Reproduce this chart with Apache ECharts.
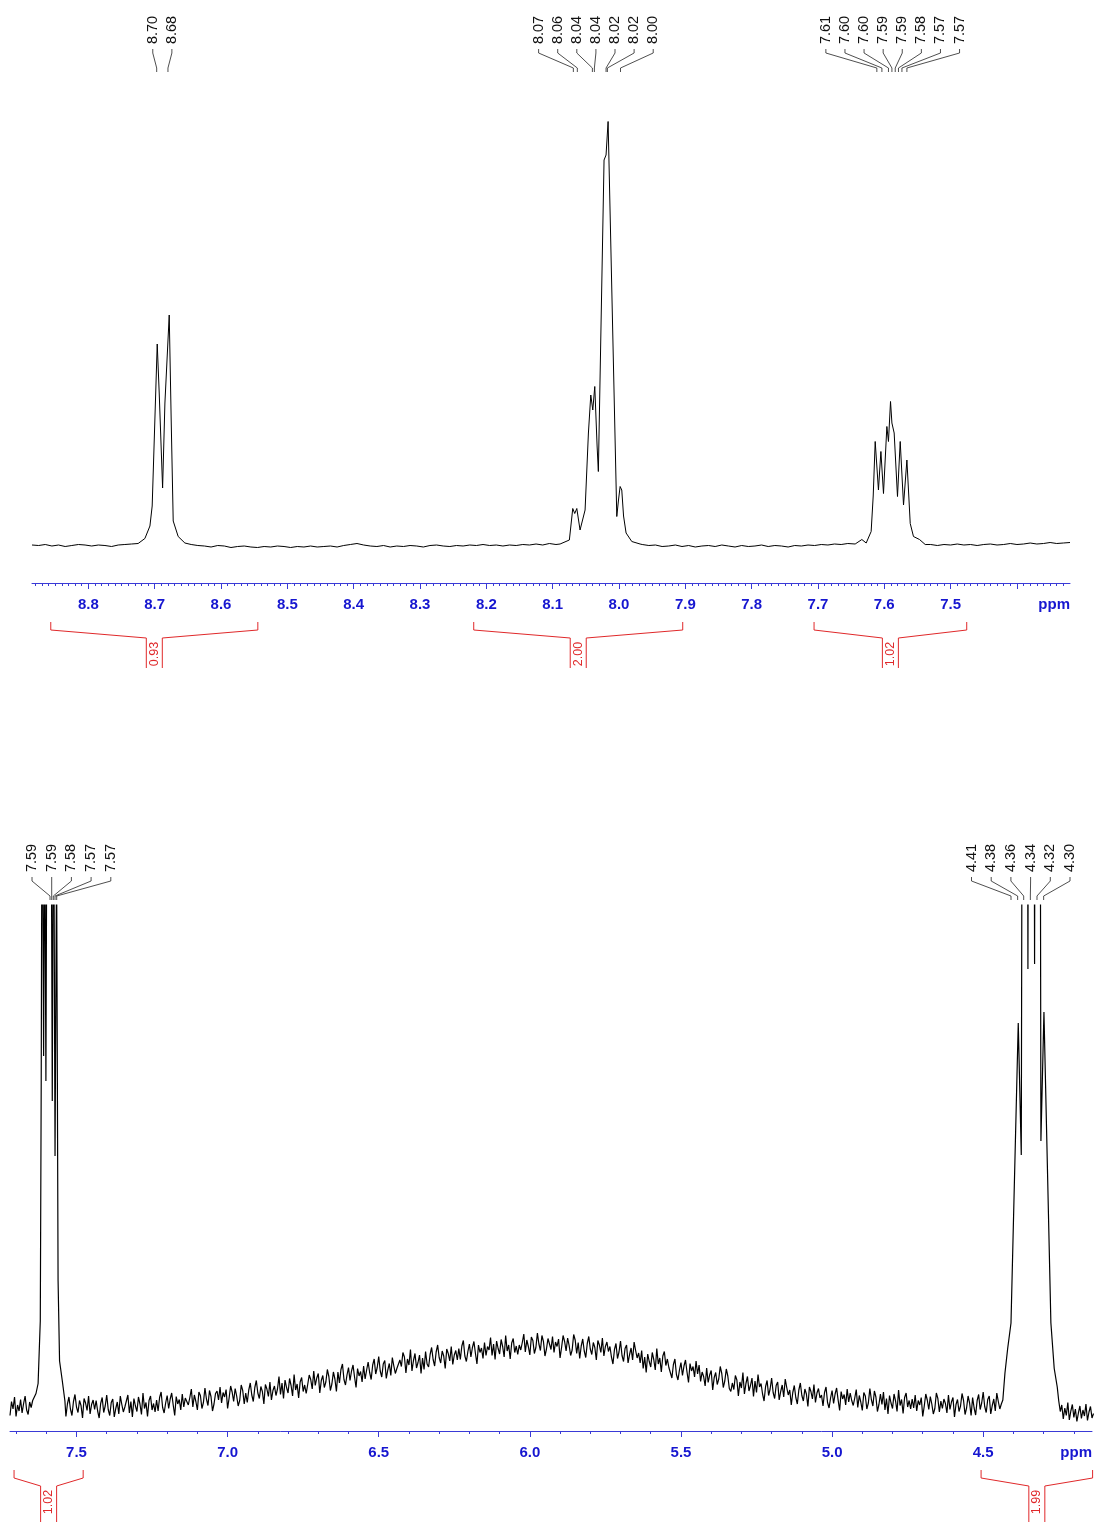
<!DOCTYPE html>
<html><head><meta charset="utf-8">
<script src="https://cdn.jsdelivr.net/npm/echarts@6/dist/echarts.min.js"></script>
<style>html,body{margin:0;padding:0;background:#fff}#c{width:1096px;height:1522px}</style>
</head><body><div id="c"></div>
<script>
// ---------------- TOP PANEL (8.885 – 7.32 ppm) ----------------
const topRange = [7.32, 8.885];
const topMajorTicks = [8.8,8.7,8.6,8.5,8.4,8.3,8.2,8.1,8.0,7.9,7.8,7.7,7.6,7.5,7.4];
const topTickLabels = [8.8,8.7,8.6,8.5,8.4,8.3,8.2,8.1,8.0,7.9,7.8,7.7,7.6,7.5];
const TOP_STEP = 0.01;
const topBase1Start = 8.885, topBase1 = [0.2,0.1,0.3,0.0,0.2,-0.1,0.1,0.3,0.2,0.0,0.2,0.1,-0.1,0.2,0.3,0.4];
const topBase2Start = 8.645, topBase2 = [0.3,0.1,0.0,-0.2,0.1,0.0,-0.3,-0.1,0.0,-0.2,-0.3,-0.1,-0.2,0.0,-0.1,-0.3,-0.1,-0.2,0.0,-0.2,-0.1,0.0,-0.2,0.1,0.3,0.5,0.2,0.0,-0.1,0.1,-0.2,0.0,-0.1,0.1,0.0,-0.2,0.1,0.2,0.0,-0.1,0.1,0.0,0.2,0.1,0.3,0.1,0.2,0.0,0.2,0.1,0.3,0.2,0.4,0.2,0.5,0.3];
const topBase3Start = 7.965, topBase3 = [0.3,0.1,0.2,-0.1,0.0,0.2,-0.1,0.1,-0.2,0.0,0.1,-0.1,0.2,0.0,-0.2,0.1,-0.1,0.0,0.2,-0.1,0.1,0.0,-0.2,0.1,0.0,0.2,0.1,0.3,0.2,0.4,0.3,0.5];
const topBase4Start = 7.53, topBase4 = [0.3,0.1,0.3,0.2,0.4,0.2,0.3,0.1,0.3,0.4,0.2,0.3,0.5,0.3,0.4,0.6,0.4,0.5,0.7,0.5,0.6,0.7];
const topPeak870 = [[8.725,0.5],[8.7148,1.5],[8.7072,4],[8.7038,8],[8.7005,22],[8.6962,40.4],[8.6932,30.6],[8.6881,11.6],[8.6846,28.6],[8.6781,46.2],[8.6751,25],[8.6721,5],[8.6646,1.9],[8.6545,0.6]];
const topPeak802 = [[8.0888,0.4],[8.0748,1.2],[8.0697,7.5],[8.0667,6.5],[8.0636,7.5],[8.0587,3.2],[8.0511,7.2],[8.0461,22.6],[8.0425,30.2],[8.0395,27.2],[8.0365,31.9],[8.033,20],[8.0311,14.9],[8.0225,77.2],[8.0195,78.2],[8.0164,84.9],[8.0033,5.9],[8.0009,9],[7.9983,11.9],[7.9958,11.2],[7.9931,6],[7.9893,2.6],[7.9807,0.9],[7.9682,0.4]];
const topPeak759 = [[7.6439,0.4],[7.6338,1.3],[7.6273,0.6],[7.6198,2.9],[7.6167,10],[7.6137,20.9],[7.6088,11.2],[7.6051,18.9],[7.6012,10.5],[7.5961,23.9],[7.5937,20.9],[7.5906,28.9],[7.5885,24.6],[7.5851,22.6],[7.5801,9.9],[7.576,20.9],[7.571,8.2],[7.5659,17.2],[7.5609,4.5],[7.556,1.9],[7.5469,1.3],[7.5383,0.3]];
const topPickLabels = [
  {labels:['8.70','8.68'], ppm:[8.697,8.680]},
  {labels:['8.07','8.06','8.04','8.04','8.02','8.02','8.00'], ppm:[8.0688,8.0628,8.0401,8.0371,8.0195,8.0175,7.9977]},
  {labels:['7.61','7.60','7.60','7.59','7.59','7.58','7.57','7.57'], ppm:[7.6112,7.6036,7.5937,7.5885,7.5835,7.5786,7.5734,7.5659]}
];
const topIntegrals = [[8.8567,8.5445,'0.93'],[8.219,7.9039,'2.00'],[7.7059,7.4757,'1.02']];

// ---------------- BOTTOM PANEL (7.72 – 4.14 ppm) ----------------
const botRange = [4.14, 7.72];
const botMajorTicks = [7.5,7.0,6.5,6.0,5.5,5.0,4.5];
const botTickLabels = [7.5,7.0,6.5,6.0,5.5,5.0,4.5];
const BOT_STEP = 0.005;
const botBase1Start = 7.72, botBase1 = [3.1,5.9,4.4,6.8,2.9,5.2,4.0,6.3,3.6,5.5,7.0,4.2,3.3,5.8,4.7,6.1];
const botBase2Start = 7.535, botBase2 = [
2.9,5.4,6.8,4.4,3.1,5.9,7.3,4.8,3.7,6.1,5.1,2.6,6.5,5.6,4.1,7.0,3.4,5.3,6.2,4.3,
6.1,4.0,2.6,5.5,6.7,3.7,5.0,7.2,4.3,3.1,5.7,6.4,2.8,4.5,5.8,3.4,7.0,5.3,3.8,4.8,
4.7,7.2,3.6,5.9,2.8,6.5,5.0,3.9,6.8,5.4,3.3,7.6,4.5,5.7,2.9,6.1,7.0,4.2,5.5,3.8,
6.2,4.0,6.7,7.8,4.7,3.6,5.6,7.1,4.5,6.4,7.6,5.2,3.1,6.9,5.4,6.3,4.2,7.4,4.8,6.6,
6.2,5.2,6.7,8.4,4.8,7.2,5.9,4.2,7.8,7.1,4.5,5.7,8.6,6.4,5.1,8.1,6.9,4.0,5.4,7.5,
8.0,6.2,8.8,5.6,7.7,6.8,8.3,4.5,6.6,9.0,7.8,5.9,8.5,7.0,5.0,6.1,9.2,8.1,5.4,7.6,
5.7,8.2,9.6,7.2,5.9,8.7,10.1,7.6,6.5,8.9,7.9,5.4,9.3,8.4,6.9,9.8,6.2,8.1,9.0,7.1,
8.4,10.9,7.3,9.6,6.5,10.2,8.7,7.6,10.5,9.1,7.0,11.3,8.2,9.4,6.6,9.8,10.7,7.9,9.2,7.5,
9.3,11.2,10.3,8.4,12.0,9.1,10.6,11.5,7.6,10.1,11.1,8.7,9.8,12.3,10.9,8.1,9.4,11.8,10.4,7.9,
11.8,9.6,12.3,13.4,10.3,9.2,11.2,12.7,10.1,12.0,13.2,10.8,8.7,12.5,11.0,11.9,9.8,13.0,10.4,12.2,
13.8,11.7,10.3,13.2,14.4,11.4,12.7,14.9,12.0,10.8,13.4,14.1,10.5,12.2,13.5,11.1,14.7,13.0,11.5,12.5,
12.5,14.2,12.9,15.7,14.8,11.6,14.4,13.2,16.3,12.0,14.1,15.5,12.6,13.7,15.2,11.5,14.6,12.3,15.9,13.4,
12.8,15.3,16.7,14.3,13.0,15.8,17.2,14.7,13.6,16.0,15.0,12.5,16.4,15.5,14.0,16.9,13.3,15.2,16.1,14.2,
16.5,14.3,17.0,18.1,15.0,13.9,15.9,17.4,14.8,16.7,17.9,15.5,13.4,17.2,15.7,16.6,14.5,17.7,15.1,16.9,
16.2,18.7,15.1,17.4,14.3,18.0,16.5,15.4,18.3,16.9,14.8,19.1,16.0,17.2,14.4,17.6,18.5,15.7,17.0,15.3,
17.2,16.2,17.7,19.4,15.8,18.2,16.9,15.2,18.8,18.1,15.5,16.7,19.6,17.4,16.1,19.1,17.9,15.0,16.4,18.5,
18.1,16.3,18.9,15.7,17.8,16.9,18.4,14.6,16.7,19.1,17.9,16.0,18.6,17.1,15.1,16.2,19.3,18.2,15.5,17.7,
14.5,17.0,18.4,16.0,14.7,17.5,18.9,16.4,15.3,17.7,16.7,14.2,18.1,17.2,15.7,18.6,15.0,16.9,17.8,15.9,
16.9,14.8,13.4,16.3,17.5,14.5,15.8,18.0,15.1,13.9,16.5,17.2,13.6,15.3,16.6,14.2,17.8,16.1,14.6,15.6,
13.6,16.1,12.5,14.8,11.7,15.4,13.9,12.8,15.7,14.3,12.2,16.5,13.4,14.6,11.8,15.0,15.9,13.1,14.4,12.7,
12.8,10.6,13.3,14.4,11.3,10.2,12.2,13.7,11.1,13.0,14.2,11.8,9.7,13.5,12.0,12.9,10.8,14.0,11.4,13.2,
9.9,11.8,10.9,9.0,12.6,9.7,11.2,12.1,8.2,10.7,11.7,9.3,10.4,12.9,11.5,8.7,10.0,12.4,11.0,8.5,
7.9,9.6,8.3,11.1,10.2,7.0,9.8,8.6,11.7,7.4,9.5,10.9,8.0,9.1,10.6,6.9,10.0,7.7,11.3,8.8,
9.5,7.4,6.0,8.9,10.1,7.1,8.4,10.6,7.7,6.5,9.1,9.8,6.2,7.9,9.2,6.8,10.4,8.7,7.2,8.2,
5.2,7.7,9.1,6.7,5.4,8.2,9.6,7.1,6.0,8.4,7.4,4.9,8.8,7.9,6.4,9.3,5.7,7.6,8.5,6.6,
7.2,5.0,7.7,8.8,5.7,4.6,6.6,8.1,5.5,7.4,8.6,6.2,4.1,7.9,6.4,7.3,5.2,8.4,5.8,7.6,
6.1,5.1,6.6,8.3,4.7,7.1,5.8,4.1,7.7,7.0,4.4,5.6,8.5,6.3,5.0,8.0,6.8,3.9,5.3,7.4,
5.3,7.8,4.2,6.5,3.4,7.1,5.6,4.5,7.4,6.0,3.9,8.2,5.1,6.3,3.5,6.7,7.6,4.8,6.1,4.4,
6.4,4.6,7.2,4.0,6.1,5.2,6.7,2.9,5.0,7.4,6.2,4.3,6.9,5.4,3.4,4.5,7.6,6.5,3.8,6.0,
4.5,6.4,5.5,3.6,7.2,4.3,5.8,6.7,2.8,5.3,6.3,3.9,5.0,7.5,6.1,3.3,4.6,7.0,5.6,3.1,
6.7,4.6,3.2,6.1,7.3,4.3,5.6,7.8,4.9,3.7,6.3,7.0,3.4,5.1,6.4,4.0,7.6,5.9,4.4,5.4];
const botBase3Start = 4.25, botBase3 = [6.0,3.9,5.2,2.4,4.6,3.1,5.7,2.2,4.0,5.3,2.7,4.4,1.9,3.6,5.0,2.5,4.2,3.0,5.4,2.1,3.8,4.9,2.6,3.5];
const botPeak759 = [[7.64,5.8],[7.634,7.5],[7.627,9.5],[7.6198,22],[7.6167,70],[7.6137,140],[7.6088,75],[7.6051,127],[7.6012,70],[7.5961,160],[7.5937,140],[7.5906,194],[7.5885,165],[7.5851,151],[7.5801,66],[7.576,140],[7.571,55],[7.5659,115],[7.5609,30],[7.556,14],[7.5469,10],[7.5383,6]];
const botPeak436 = [[4.435,6.2],[4.428,11.6],[4.419,16.5],[4.408,21.6],[4.384,81.6],[4.374,55.2],[4.362,400],[4.352,92.4],[4.341,400],[4.330,93.4],[4.319,400],[4.309,58],[4.299,83.8],[4.276,21.6],[4.265,12.5],[4.255,8.8]];
const botPickLabels = [
  {labels:['7.59','7.59','7.58','7.57','7.57'], ppm:[7.5876,7.582,7.5767,7.5711,7.5655]},
  {labels:['4.41','4.38','4.36','4.34','4.32','4.30'], ppm:[4.408,4.386,4.366,4.344,4.322,4.300]}
];
const botIntegrals = [[7.7066,7.4779,'1.02'],[4.507,4.138,'1.99']];

// ---------------- helpers ----------------
function seg(start, step, vals){ return vals.map((v,i)=>[+(start - i*step).toFixed(4), v]); }
function byPpm(a,b){ return b[0]-a[0]; }
const topData = [].concat(seg(topBase1Start,TOP_STEP,topBase1), topPeak870, seg(topBase2Start,TOP_STEP,topBase2), topPeak802, seg(topBase3Start,TOP_STEP,topBase3), topPeak759, seg(topBase4Start,TOP_STEP,topBase4)).sort(byPpm);
const botData = [].concat(seg(botBase1Start,BOT_STEP,botBase1), botPeak759, seg(botBase2Start,BOT_STEP,botBase2), botPeak436, seg(botBase3Start,BOT_STEP,botBase3)).sort(byPpm);

const topMinor = []; for (let k=733;k<=888;k++) topMinor.push(k/100);
const botMinor = []; for (let k=42;k<=77;k++) botMinor.push(k/10);

const BLUE_LINE = '#3a3ad6', BLUE_TXT = '#1616d0', RED = '#e0282a';
const FONT = '"Liberation Sans", Arial, Helvetica, sans-serif';
const TOPY = [-7.4, 92.6];
const BOTY = [0, 105.2];

function majorAxis(grid, range, ticks, labels){
  return {type:'value', gridIndex:grid, position:'bottom', inverse:true, min:range[0], max:range[1],
    axisLine:{show:true, onZero:false, lineStyle:{color:BLUE_LINE, width:1}},
    axisTick:{show:true, length:6, customValues:ticks, lineStyle:{color:BLUE_LINE, width:1}},
    axisLabel:{show:true, customValues:labels, margin:14, color:BLUE_TXT, fontWeight:'bold', fontSize:15, fontFamily:FONT,
      formatter:(v)=>(+v).toFixed(1)},
    splitLine:{show:false}};
}
function minorAxis(grid, range, ticks){
  return {type:'value', gridIndex:grid, position:'bottom', inverse:true, min:range[0], max:range[1],
    axisLine:{show:false, onZero:false}, axisLabel:{show:false}, splitLine:{show:false},
    axisTick:{show:true, length:3, customValues:ticks, lineStyle:{color:BLUE_LINE, width:1}}};
}

function pickRenderer(groups, cfg){
  return function(params, api){
    const g = groups[params.dataIndex];
    const xs = g.ppm.map(p => api.coord([p, cfg.y[0]])[0]);
    const topPx = api.coord([g.ppm[0], cfg.y[1]])[1];
    const endY = topPx + cfg.endOff;
    const n = xs.length;
    const mean = xs.reduce((a,b)=>a+b,0)/n;
    let first = mean - (n-1)/2*cfg.gap;
    if (first < cfg.minX) first = cfg.minX;
    const last = first + (n-1)*cfg.gap;
    if (last > cfg.maxX) first -= (last - cfg.maxX);
    const children = [];
    for (let i=0;i<n;i++){
      const lx = first + i*cfg.gap;
      children.push({type:'polyline', shape:{points:[[lx,endY-23],[lx,endY-19],[xs[i],endY-4],[xs[i],endY]]},
        style:{stroke:'#222', fill:null, lineWidth:0.8}});
      children.push({type:'text', x:lx, y:endY-42, rotation:Math.PI/2,
        style:{text:g.labels[i], fill:'#111', font:'14.5px '+FONT, align:'center', verticalAlign:'middle', textAlign:'center', textVerticalAlign:'middle'}});
    }
    return {type:'group', children};
  };
}
function integralRenderer(items, cfg){
  return function(params, api){
    const it = items[params.dataIndex];
    const x1 = api.coord([it[0], cfg.y[0]])[0], x2 = api.coord([it[1], cfg.y[0]])[0];
    const axisY = api.coord([it[0], cfg.y[0]])[1];
    const xm = (x1+x2)/2, h = 8;
    const st = {stroke:RED, fill:null, lineWidth:1};
    return {type:'group', children:[
      {type:'polyline', shape:{points:[[x1,axisY+39],[x1,axisY+47],[xm-h,axisY+55],[xm-h,axisY+cfg.stemEnd]]}, style:st},
      {type:'polyline', shape:{points:[[x2,axisY+39],[x2,axisY+47],[xm+h,axisY+55],[xm+h,axisY+cfg.stemEnd]]}, style:st},
      {type:'text', x:xm, y:axisY+71, rotation:Math.PI/2,
        style:{text:it[2], fill:RED, font:'12.5px '+FONT, align:'center', verticalAlign:'middle', textAlign:'center', textVerticalAlign:'middle'}}
    ]};
  };
}
function ppmRenderer(cfg){
  return function(params, api){
    const p = api.coord([cfg.x, cfg.y[0]]);
    return {type:'text', x:p[0], y:p[1]+22,
      style:{text:'ppm', fill:BLUE_TXT, font:'bold 15px '+FONT, align:'right', verticalAlign:'middle', textAlign:'right', textVerticalAlign:'middle'}};
  };
}

const chart = echarts.init(document.getElementById('c'), null, {renderer:'canvas'});
chart.setOption({
  animation:false,
  backgroundColor:'#ffffff',
  grid:[
    {left:32, top:83, width:1038, height:500},
    {left:10, top:905, width:1082, height:526}
  ],
  xAxis:[
    majorAxis(0, topRange, topMajorTicks, topTickLabels),
    minorAxis(0, topRange, topMinor),
    majorAxis(1, botRange, botMajorTicks, botTickLabels),
    minorAxis(1, botRange, botMinor)
  ],
  yAxis:[
    {type:'value', gridIndex:0, min:TOPY[0], max:TOPY[1], show:false},
    {type:'value', gridIndex:1, min:BOTY[0], max:BOTY[1], show:false}
  ],
  series:[
    {type:'line', xAxisIndex:0, yAxisIndex:0, data:topData, showSymbol:false, symbol:'none',
      lineStyle:{color:'#000', width:1}, clip:true, silent:true},
    {type:'line', xAxisIndex:2, yAxisIndex:1, data:botData, showSymbol:false, symbol:'none',
      lineStyle:{color:'#000', width:1.2}, clip:true, silent:true},
    {type:'custom', xAxisIndex:0, yAxisIndex:0, clip:false, silent:true,
      data:topPickLabels.map(g=>[g.ppm[0],0]),
      renderItem:pickRenderer(topPickLabels,{y:TOPY, endOff:-11, gap:19.1, minX:32, maxX:1070})},
    {type:'custom', xAxisIndex:2, yAxisIndex:1, clip:false, silent:true,
      data:botPickLabels.map(g=>[g.ppm[0],0]),
      renderItem:pickRenderer(botPickLabels,{y:BOTY, endOff:-5, gap:19.7, minX:32, maxX:1070})},
    {type:'custom', xAxisIndex:0, yAxisIndex:0, clip:false, silent:true,
      data:topIntegrals.map(d=>[d[0],0]),
      renderItem:integralRenderer(topIntegrals,{y:TOPY, stemEnd:85})},
    {type:'custom', xAxisIndex:2, yAxisIndex:1, clip:false, silent:true,
      data:botIntegrals.map(d=>[d[0],0]),
      renderItem:integralRenderer(botIntegrals,{y:BOTY, stemEnd:92})},
    {type:'custom', xAxisIndex:0, yAxisIndex:0, clip:false, silent:true, data:[[topRange[0],0]],
      renderItem:ppmRenderer({x:topRange[0], y:TOPY})},
    {type:'custom', xAxisIndex:2, yAxisIndex:1, clip:false, silent:true, data:[[botRange[0],0]],
      renderItem:ppmRenderer({x:botRange[0], y:BOTY})}
  ]
});
</script></body></html>
